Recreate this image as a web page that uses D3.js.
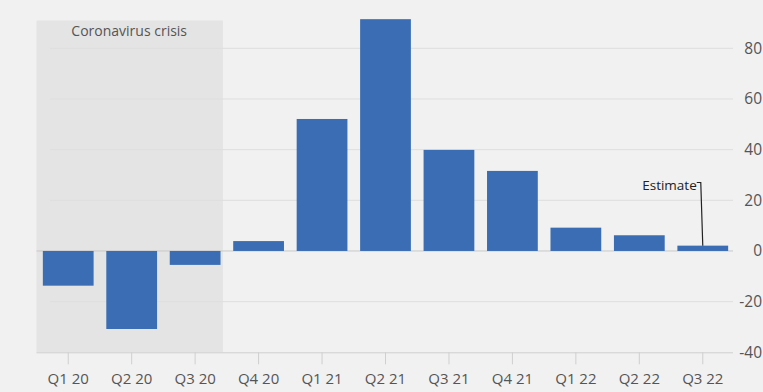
<!DOCTYPE html>
<html><head><meta charset="utf-8">
<script src="https://cdn.jsdelivr.net/npm/d3@7"></script>
<style>
html,body{margin:0;padding:0;background:#f1f1f1;overflow:hidden;}
svg{display:block;font-family:"Open Sans",sans-serif;}
</style></head>
<body><svg id="c" width="763" height="392"></svg>
<script>
const categories = ["Q1 20","Q2 20","Q3 20","Q4 20","Q1 21","Q2 21","Q3 21","Q4 21","Q1 22","Q2 22","Q3 22"];
const values = [-13.7,-30.8,-5.5,3.9,52.1,91.5,39.9,31.6,9.2,6.2,2.1];
const yTicks = [-40,-20,0,20,40,60,80];
const crisisCategories = ["Q1 20","Q2 20","Q3 20"];
const crisisLabel = "Coronavirus crisis";
const estimateLabel = "Estimate";
const estimateCategory = "Q3 22";

const FONT = "'Open Sans', sans-serif";
const svg = d3.select("#c");
const x = d3.scaleBand().domain(categories).range([36.5, 734.5]).paddingInner(0).paddingOuter(0);
const y = d3.scaleLinear().domain([-40, 80]).range([352.3, 48.3]);
const bw = x.bandwidth() * 0.8;
const off = (x.bandwidth() - bw) / 2;

// crisis shading
const x0 = x(crisisCategories[0]);
const x1 = x(crisisCategories[crisisCategories.length-1]) + x.bandwidth() - 4;
svg.append("rect").attr("x", x0).attr("y", y(91)).attr("width", x1 - x0)
  .attr("height", y(-40) - y(91)).attr("fill", "#e4e4e4");

// gridlines
svg.append("g").selectAll("line").data(yTicks.filter(d => d !== -40 && d !== 0)).join("line")
  .attr("x1", 50).attr("x2", 733).attr("y1", d => y(d)).attr("y2", d => y(d))
  .attr("stroke", "#dedede").attr("stroke-width", 1);
svg.append("line").attr("x1", x0).attr("x2", 733).attr("y1", y(0)).attr("y2", y(0))
  .attr("stroke", "#c8c8c8").attr("stroke-width", 1);

// y tick labels from the y scale
svg.append("g").selectAll("text").data(yTicks).join("text")
  .attr("x", 762).attr("y", d => y(d)).attr("dy", "0.35em")
  .attr("text-anchor", "end").attr("fill", "#555")
  .style("font-size", "15.5px").style("font-family", FONT)
  .text(d => d);

// x axis
const xAxis = d3.axisBottom(x).tickSize(12).tickSizeOuter(0).tickPadding(9);
const gx = svg.append("g").attr("transform", `translate(0,${y(-40)})`).call(xAxis);
gx.select(".domain").attr("d", `M${x0},0.5H733`).attr("stroke", "#cfcfcf");
gx.selectAll(".tick line").attr("stroke", "#cfcfcf");
gx.selectAll("text").attr("fill", "#555").style("font-size", "15px")
  .style("font-family", FONT);

// bars
svg.append("g").selectAll("rect").data(values).join("rect")
  .attr("x", (d, i) => x(categories[i]) + off)
  .attr("width", bw)
  .attr("y", d => y(Math.max(0, d)))
  .attr("height", d => Math.abs(y(d) - y(0)))
  .attr("fill", "#3a6db4");

// crisis label
svg.append("text").attr("x", (x0 + x1) / 2 - 0.5).attr("y", 36).attr("text-anchor", "middle")
  .attr("fill", "#555").style("font-size", "14px").style("font-family", FONT).text(crisisLabel);

// estimate annotation
const ei = categories.indexOf(estimateCategory);
const ex = x(estimateCategory) + x.bandwidth() / 2;
svg.append("text").attr("x", ex - 6).attr("y", 190).attr("text-anchor", "end")
  .attr("fill", "#222").style("font-size", "13.5px").style("font-family", FONT).text(estimateLabel);
svg.append("path").attr("d", `M${ex - 6},182.5H${ex - 2}L${ex},${y(values[ei])}`)
  .attr("fill", "none").attr("stroke", "#222").attr("stroke-width", 1.2);
</script></body></html>
